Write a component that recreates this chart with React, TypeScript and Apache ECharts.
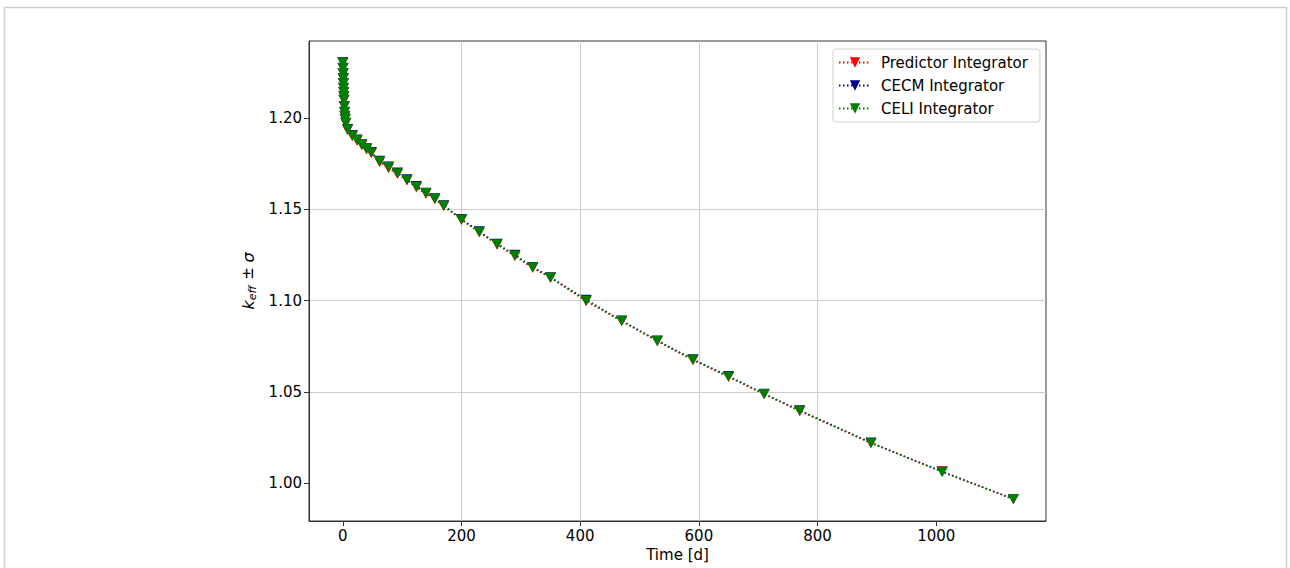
import React, { useEffect, useRef } from "react";
import * as echarts from "echarts";

const timeDays = [
  0, 0.25, 0.5, 0.75, 1, 1.25, 1.5, 1.75, 2, 2.5, 3, 3.5, 4, 5, 8, 16, 24, 32, 40, 48, 62, 77, 92,
  108, 124, 140, 155, 170, 200, 230, 260, 290, 320, 350, 410, 470, 530, 590, 650, 710, 770, 890,
  1010, 1130,
];

const kPredictor = [
  1.2303, 1.2271, 1.2241, 1.2214, 1.2187, 1.2162, 1.2139, 1.2117, 1.2097, 1.2061, 1.2031, 1.2009,
  1.1991, 1.1970, 1.1933, 1.1899, 1.1874, 1.1849, 1.1826, 1.1806, 1.1756, 1.1724, 1.1692, 1.1657,
  1.1618, 1.1584, 1.1554, 1.1516, 1.1441, 1.1373, 1.1306, 1.1243, 1.1178, 1.1124, 1.0996, 1.0887,
  1.0777, 1.0674, 1.0582, 1.0487, 1.0395, 1.0220, 1.0066, 0.9913,
];

const kCECM = [
  1.2304, 1.2273, 1.2244, 1.2216, 1.2189, 1.2164, 1.2141, 1.2119, 1.2099, 1.2063, 1.2033, 1.2011,
  1.1994, 1.1973, 1.1939, 1.1906, 1.1881, 1.1855, 1.1833, 1.1813, 1.1765, 1.1733, 1.1700, 1.1663,
  1.1627, 1.1590, 1.1560, 1.1521, 1.1446, 1.1379, 1.1311, 1.1251, 1.1184, 1.1128, 1.1005, 1.0891,
  1.0782, 1.0679, 1.0587, 1.0490, 1.0400, 1.0223, 1.0063, 0.9915,
];

const kCELI = [
  1.2303, 1.2272, 1.2243, 1.2215, 1.2188, 1.2163, 1.2140, 1.2118, 1.2098, 1.2062, 1.2032, 1.2010,
  1.1993, 1.1972, 1.1937, 1.1903, 1.1878, 1.1852, 1.1830, 1.1810, 1.1762, 1.1730, 1.1697, 1.1660,
  1.1623, 1.1588, 1.1558, 1.1519, 1.1443, 1.1375, 1.1308, 1.1246, 1.1182, 1.1126, 1.1001, 1.0889,
  1.0779, 1.0676, 1.0584, 1.0489, 1.0397, 1.0221, 1.0062, 0.9914,
];

const seriesNames = ["Predictor Integrator", "CECM Integrator", "CELI Integrator"];
const seriesColors = ["#ff0000", "#00008b", "#008000"];
const seriesValues = [kPredictor, kCECM, kCELI];

const xTickValues = [0, 200, 400, 600, 800, 1000];
const yTickValues = [1.0, 1.05, 1.1, 1.15, 1.2];

const FONT = "DejaVu Sans";

export default function App() {
  const ref = useRef<HTMLDivElement>(null);

  useEffect(() => {
    if (!ref.current) return;
    const chart = echarts.init(ref.current, undefined, { renderer: "svg" });

    const series = seriesNames.map((name, si) => ({
      name,
      type: "line",
      data: timeDays.map((t, i) => [t, seriesValues[si][i]]),
      symbol: "triangle",
      symbolRotate: 180,
      symbolSize: [11, 10],
      showAllSymbol: true,
      z: 2 + si,
      lineStyle: { color: seriesColors[si], width: 1.5, type: [1.5, 2.5] },
      itemStyle: { color: seriesColors[si] },
      emphasis: { disabled: true },
    }));

    chart.setOption({
      animation: false,
      backgroundColor: "#ffffff",
      textStyle: { fontFamily: FONT },
      grid: {
        left: 309,
        top: 41,
        width: 737,
        height: 480,
        show: true,
        borderColor: "#333333",
        borderWidth: 1,
        backgroundColor: "transparent",
        containLabel: false,
      },
      legend: {
        orient: "vertical",
        left: 833,
        top: 49,
        itemWidth: 32,
        itemHeight: 13,
        itemGap: 8,
        padding: [6, 12, 6, 5],
        borderColor: "#d0d0d0",
        borderWidth: 1,
        borderRadius: 3,
        backgroundColor: "rgba(255,255,255,0.8)",
        textStyle: { fontSize: 15, color: "#000", fontFamily: FONT, padding: [0, 0, 0, 5] },
        data: seriesNames,
      },
      xAxis: {
        type: "value",
        min: -57,
        max: 1185,
        minInterval: 200,
        maxInterval: 200,
        name: "Time [d]",
        nameLocation: "middle",
        nameGap: 22,
        nameTextStyle: { fontSize: 15, color: "#000", fontFamily: FONT },
        axisLine: { show: true, onZero: false, lineStyle: { color: "#333", width: 1 } },
        axisTick: {
          show: true,
          length: 5,
          customValues: xTickValues,
          lineStyle: { color: "#333", width: 1 },
        },
        axisLabel: {
          customValues: xTickValues,
          fontSize: 15,
          color: "#000",
          margin: 7,
          fontFamily: FONT,
          formatter: (v: number) => String(Math.round(v)),
        },
        splitLine: {
          show: true,
          showMinLine: false,
          showMaxLine: false,
          lineStyle: { color: "#cccccc", width: 1 },
        },
      },
      yAxis: {
        type: "value",
        min: 0.9794,
        max: 1.242,
        minInterval: 0.05,
        maxInterval: 0.05,
        name: "{i|k}{sub|eff}{n| ± }{i|σ}",
        nameLocation: "middle",
        nameRotate: 90,
        nameGap: 38,
        nameTextStyle: {
          fontSize: 15,
          color: "#000",
          fontFamily: FONT,
          rich: {
            i: { fontSize: 16, fontStyle: "italic", fontFamily: FONT, color: "#000" },
            sub: {
              fontSize: 11,
              fontStyle: "italic",
              fontFamily: FONT,
              color: "#000",
              padding: [8, 1, 0, 0],
            },
            n: { fontSize: 15, fontFamily: FONT, color: "#000" },
          },
        },
        axisLine: { show: true, onZero: false, lineStyle: { color: "#333", width: 1 } },
        axisTick: {
          show: true,
          length: 5,
          customValues: yTickValues,
          lineStyle: { color: "#333", width: 1 },
        },
        axisLabel: {
          customValues: yTickValues,
          fontSize: 15,
          color: "#000",
          margin: 7,
          fontFamily: FONT,
          formatter: (v: number) => v.toFixed(2),
        },
        splitLine: {
          show: true,
          showMinLine: false,
          showMaxLine: false,
          lineStyle: { color: "#cccccc", width: 1 },
        },
      },
      graphic: [
        {
          type: "rect",
          shape: { x: 4.5, y: 7.5, width: 1282, height: 600 },
          style: { fill: "none", stroke: "#d0d0d0", lineWidth: 1.5 },
          silent: true,
          z: -10,
        },
      ],
      series,
    });

    return () => chart.dispose();
  }, []);

  return (
    <div
      ref={ref}
      style={{ position: "absolute", left: 0, top: 0, width: 1290, height: 568, background: "#fff" }}
    />
  );
}
